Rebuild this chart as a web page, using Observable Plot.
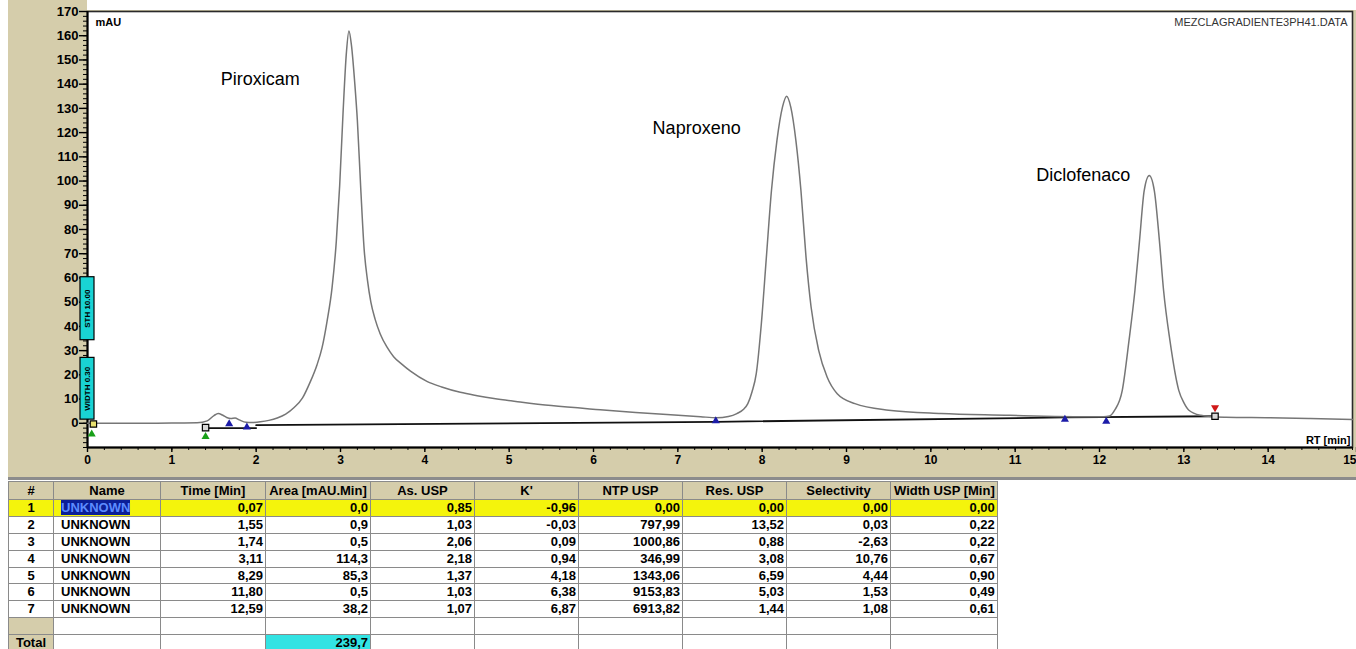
<!DOCTYPE html>
<html><head><meta charset="utf-8">
<script src="https://cdn.jsdelivr.net/npm/d3@7"></script>
<script src="https://cdn.jsdelivr.net/npm/@observablehq/plot@0.6"></script>
<style>
html,body{margin:0;padding:0;background:#fff;}
body{width:1356px;height:649px;overflow:hidden;position:relative;font-family:Arial,"Liberation Sans",sans-serif;}
#chart svg{display:block;background:linear-gradient(#fff,#fff) 87px 0/1269px 10px no-repeat, linear-gradient(to right,#fff 8px,#d5cdab 8px);}
#sep{position:absolute;left:8px;top:477px;width:1348px;height:3px;background:#8c8c8c;}
#tbl{position:absolute;left:8px;top:481px;border-collapse:collapse;table-layout:fixed;font:bold 13px Arial,"Liberation Sans",sans-serif;color:#000;}
#tbl th,#tbl td{border:1px solid #8a8a8a;padding:0 2px;white-space:nowrap;overflow:hidden;line-height:14px;box-sizing:border-box;}
#tbl th{background:#d5cdab;height:18px;text-align:center;}
#tbl td{height:16.9px;text-align:right;}
#tbl td.num{text-align:center;}
#tbl td.name{text-align:left;padding-left:7px;}
#tbl tr.sel td{background:#f4f40c;}
#tbl tr.sel td.name span{background:#0b1f97;color:#5d8cff;}
#tbl td.tan{background:#d5cdab;}
#tbl td.cyan{background:#33e3e3;}
#tbl th.wl{text-align:left;padding-left:3px;}
</style>
</head><body>
<div id="chart"></div>
<div id="sep"></div>
<table id="tbl"></table>
<script>
// ---------- chromatogram data ----------
const rtTrace = [0.00,0.50,1.00,1.30,1.42,1.50,1.55,1.60,1.65,1.70,1.75,1.80,1.88,1.95,2.05,2.15,2.25,2.35,2.45,2.55,2.64,2.72,2.78,2.84,2.90,2.95,2.99,3.03,3.07,3.10,3.13,3.17,3.20,3.24,3.28,3.32,3.36,3.41,3.47,3.55,3.63,3.73,3.83,4.03,4.20,4.42,4.62,4.82,5.13,5.50,6.08,6.50,6.87,7.27,7.46,7.60,7.70,7.78,7.83,7.88,7.93,7.99,8.05,8.11,8.175,8.24,8.29,8.34,8.40,8.46,8.52,8.58,8.67,8.77,8.89,9.10,9.50,10.12,10.94,11.34,11.80,12.05,12.12,12.18,12.27,12.35,12.42,12.475,12.53,12.59,12.65,12.71,12.76,12.835,12.94,13.00,13.06,13.20,13.35,13.50,14.00,14.50,15.00];
const mAU = [0.0,0.0,0.1,0.2,1.0,3.2,4.0,3.4,2.4,2.0,2.2,1.4,0.4,0.3,0.6,1.2,2.2,3.8,6.5,10.5,17,24,31,42,56,75,98,128,153,162,156,140,125,97,72,59,50,43,37,31.5,27.5,24.3,21.5,17.2,15.0,12.8,11.4,10.2,8.8,7.3,5.6,4.5,3.6,2.7,2.3,2.8,4.0,5.8,8.1,13,20.5,41,68.6,96,116.7,130.4,135,130.4,116.7,96,68.6,48,30.1,19.1,12.2,8.1,5.4,4.0,3.3,2.9,2.7,2.7,3.0,5.4,13.6,34.2,54.8,75.5,96.1,102.3,96.1,75.5,54.8,34.2,13.6,8.5,5.4,3.3,2.7,2.5,2.3,2.0,1.6];

// integration baselines: [segment, start rt, start mAU, end rt, end mAU]
const baseSeg = [1,2,3,4];
const baseT0 = [1.40,2.00,7.45,11.59];
const baseV0 = [-2.0,-0.8,0.6,2.4];
const baseT1 = [2.00,7.45,11.59,13.37];
const baseV1 = [-2.0,0.6,2.4,2.9];

// peak event markers
const markT = [0.05,1.40,1.68,1.89,7.45,11.59,12.08,13.37];
const markV = [-4.5,-5.5,-0.3,-1.6,1.0,1.6,0.8,6.5];
const markKind = ["start","start","valley","valley","valley","valley","valley","end"];
const boxT = [0.07,1.40,13.37];
const boxV = [-0.3,-1.8,2.9];
const boxKind = ["sel","box","box"];

// timed events drawn on the signal axis
const eventLabel = ["STH 10.00","WIDTH 0.30"];
const eventRt = [0,0];
const eventLo = [34.3,1.5];
const eventHi = [60.3,27];

// named peaks
const peakName = ["Piroxicam","Naproxeno","Diclofenaco"];
const peakRt = [3.11,8.29,12.59];
const peakH = [162,135,102.5];

const yTicks = d3.range(0,171,10);
const yMinor = d3.range(-10,171,2);
const xTicks = d3.range(0,15,1);
const xLast = [15];
const xMinor = d3.range(0,76,1).map(i => i/5);

// ---------- results table ----------
const headers = ["#","Name","Time [Min]","Area [mAU.Min]","As. USP","K'","NTP USP","Res. USP","Selectivity","Width USP [Min]"];
const peakNo = [1,2,3,4,5,6,7];
const peakLabel = ["UNKNOWN","UNKNOWN","UNKNOWN","UNKNOWN","UNKNOWN","UNKNOWN","UNKNOWN"];
const timeMin = [0.07,1.55,1.74,3.11,8.29,11.80,12.59];
const areaVal = [0.0,0.9,0.5,114.3,85.3,0.5,38.2];
const asUSP = [0.85,1.03,2.06,2.18,1.37,1.03,1.07];
const kPrime = [-0.96,-0.03,0.09,0.94,4.18,6.38,6.87];
const ntpUSP = [0.00,797.99,1000.86,346.99,1343.06,9153.83,6913.82];
const resUSP = [0.00,13.52,0.88,3.08,6.59,5.03,1.44];
const selectivity = [0.00,0.03,-2.63,10.76,4.44,1.53,1.08];
const widthUSP = [0.00,0.22,0.22,0.67,0.90,0.49,0.61];
const areaTotal = 239.7;
const colWidths = [45,107,105,105,104,104,104,104,104,105];

// ---------- build tables for the library ----------
const trace = rtTrace.map((t,i) => ({t, v: mAU[i]}));
const baseline = baseSeg.flatMap((s,i) => [{s, t: baseT0[i], v: baseV0[i]}, {s, t: baseT1[i], v: baseV1[i]}]);
const marks = markT.map((t,i) => ({t, v: markV[i], k: markKind[i]}));
const boxes = boxT.map((t,i) => ({t, v: boxV[i], k: boxKind[i]}));
const events = eventLabel.map((label,i) => ({label, rt: eventRt[i], lo: eventLo[i], hi: eventHi[i]}));
const peaks = peakName.map((name,i) => ({name, rt: peakRt[i], h: peakH[i]}));

const font = 'Arial, "Liberation Sans", sans-serif';
const chart = Plot.plot({
  width: 1356, height: 477,
  marginLeft: 87, marginRight: 4, marginTop: 11, marginBottom: 30,
  x: {domain: [0,15], axis: null},
  y: {domain: [-10,170], axis: null},
  style: {fontFamily: font, color: "#000", overflow: "visible"},
  marks: [
    Plot.frame({fill: "#fff", stroke: "#2a2a2a", strokeWidth: 1.6}),
    Plot.axisY(yMinor, {tickSize: 4, tickFormat: () => "", label: null, strokeWidth: 1}),
    Plot.axisY(yTicks, {tickSize: 8, tickPadding: 1, fontSize: 13, fontWeight: "bold", label: null, strokeWidth: 1.4}),
    Plot.axisX(xMinor, {tickSize: 3, tickFormat: () => "", label: null}),
    Plot.axisX(xTicks, {tickSize: 5, tickPadding: 3, fontSize: 12, fontWeight: "bold", label: null, strokeWidth: 1.4}),
    Plot.axisX(xLast, {tickSize: 5, tickPadding: 3, fontSize: 12, fontWeight: "bold", label: null, strokeWidth: 1.4, textAnchor: "end", dx: 4}),
    Plot.ruleX([0], {stroke: "#000", strokeWidth: 2}),
    Plot.ruleY([-10], {stroke: "#000", strokeWidth: 2}),
    Plot.line(baseline, {x: "t", y: "v", z: "s", stroke: "#111", strokeWidth: 1.8}),
    Plot.line(trace, {x: "t", y: "v", stroke: "#767676", strokeWidth: 1.5, curve: "monotone-x"}),
    Plot.dot(marks.filter(d => d.k === "valley"), {x: "t", y: "v", symbol: "triangle", r: 3, fill: "#1c1ca8"}),
    Plot.dot(marks.filter(d => d.k === "start"), {x: "t", y: "v", symbol: "triangle", r: 3, fill: "#19a019"}),
    Plot.dot(marks.filter(d => d.k === "end"), {x: "t", y: "v", symbol: "triangle", r: 3, fill: "#d01818", rotate: 180}),
    Plot.dot(boxes, {x: "t", y: "v", symbol: "square", r: 3.6, fill: d => d.k === "sel" ? "#e8e070" : "#d8d8d8", stroke: "#000", strokeWidth: 1.2}),
    Plot.rect(events, {x1: "rt", x2: "rt", y1: "lo", y2: "hi", insetLeft: -7, insetRight: -7, fill: "#19d3d3", stroke: "#000", strokeWidth: 1.2}),
    Plot.text(events, {x: "rt", y: d => (d.lo + d.hi) / 2, text: "label", rotate: -90, fontSize: 8, fontWeight: "bold", fill: "#000"}),
    Plot.text(peaks.slice(0,1), {x: "rt", y: "h", text: "name", textAnchor: "start", dx: -129, dy: 48, fontSize: 18, fill: "#000"}),
    Plot.text(peaks.slice(1,2), {x: "rt", y: "h", text: "name", textAnchor: "start", dx: -134, dy: 32, fontSize: 18, fill: "#000"}),
    Plot.text(peaks.slice(2,3), {x: "rt", y: "h", text: "name", textAnchor: "start", dx: -113, dy: 0, fontSize: 18, fill: "#000"}),
    Plot.text(["mAU"], {frameAnchor: "top-left", dx: 8, dy: 7, fontSize: 11, fontWeight: "bold", fill: "#000"}),
    Plot.text(["MEZCLAGRADIENTE3PH41.DATA"], {frameAnchor: "top-right", dx: -5, dy: 7, fontSize: 11, fill: "#333", letterSpacing: "0.9px"}),
    Plot.text(["RT [min]"], {frameAnchor: "bottom-right", dx: -2, dy: -4, fontSize: 11, fontWeight: "bold", fill: "#000"})
  ]
});
document.getElementById("chart").append(chart);

// ---------- HTML results table ----------
const f2 = v => v.toFixed(2).replace(".", ",");
const f1 = v => v.toFixed(1).replace(".", ",");
const tbl = document.getElementById("tbl");
let html = "<colgroup>" + colWidths.map(w => `<col style="width:${w}px">`).join("") + "</colgroup>";
html += "<tr>" + headers.map((h,i) => `<th${i === headers.length-1 ? ' class="wl"' : ''}>${h}</th>`).join("") + "</tr>";
peakNo.forEach((n,i) => {
  html += `<tr${i === 0 ? ' class="sel"' : ''}>` +
    `<td class="num">${n}</td>` +
    `<td class="name"><span>${peakLabel[i]}</span></td>` +
    `<td>${f2(timeMin[i])}</td><td>${f1(areaVal[i])}</td><td>${f2(asUSP[i])}</td><td>${f2(kPrime[i])}</td>` +
    `<td>${f2(ntpUSP[i])}</td><td>${f2(resUSP[i])}</td><td>${f2(selectivity[i])}</td><td>${f2(widthUSP[i])}</td></tr>`;
});
html += `<tr><td class="tan"></td>` + "<td></td>".repeat(9) + "</tr>";
html += `<tr><td class="tan num">Total</td><td></td><td></td><td class="cyan">${f1(areaTotal)}</td>` + "<td></td>".repeat(6) + "</tr>";
tbl.innerHTML = html;
</script>
</body></html>
